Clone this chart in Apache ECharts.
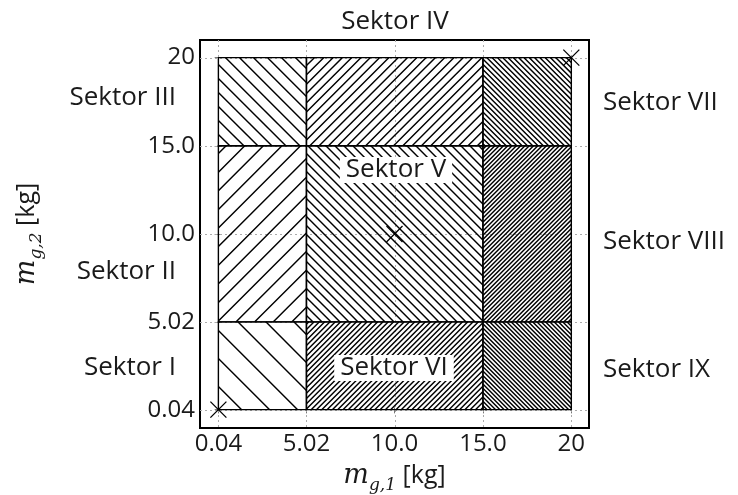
<!DOCTYPE html>
<html>
<head>
<meta charset="utf-8">
<script src="https://cdn.jsdelivr.net/npm/echarts@6/dist/echarts.min.js"></script>
<style>html,body{margin:0;padding:0;background:#fff}#c{width:738px;height:495px}</style>
</head>
<body>
<div id="c"></div>
<script>
// ---- data ----
const xTicks = [0.04, 5.02, 10.0, 15.0, 20];
const xTickLabels = ['0.04', '5.02', '10.0', '15.0', '20'];
const yTicks = [0.04, 5.02, 10.0, 15.0, 20];
const yTickLabels = ['0.04', '5.02', '10.0', '15.0', '20'];

const sectorNames = ['Sektor I','Sektor II','Sektor III','Sektor IV','Sektor V','Sektor VI','Sektor VII','Sektor VIII','Sektor IX'];
const sectorX0 = [0.04, 0.04, 0.04, 5.02, 5.02, 5.02, 15.0, 15.0, 15.0];
const sectorX1 = [5.02, 5.02, 5.02, 15.0, 15.0, 15.0, 20, 20, 20];
const sectorY0 = [0.04, 5.02, 15.0, 15.0, 5.02, 0.04, 15.0, 5.02, 0.04];
const sectorY1 = [5.02, 15.0, 20, 20, 15.0, 5.02, 20, 15.0, 5.02];

const markerX = [0.04, 10.0, 20];
const markerY = [0.04, 10.0, 20];

// ---- styles ----
const hatchDir = ['\\', '/', '\\', '/', '\\', '/', '\\', '/', '\\'];
const hatchSpacing = [28, 18.6, 14, 9.3, 9.0, 5.3, 5.3, 4.3, 4.3];
const FONT = "'Open Sans', sans-serif";
const TXT = '#1a1a1a';

const chart = echarts.init(document.getElementById('c'), null, {renderer: 'canvas'});

function labelFor(ticks, labels) {
  return function (v) {
    for (let i = 0; i < ticks.length; i++) if (Math.abs(ticks[i] - v) < 1e-6) return labels[i];
    return '';
  };
}

function hatchPath(left, top, right, bottom, dir, s) {
  let d = '';
  if (dir === '/') {
    const cMin = left + top, cMax = right + bottom;
    for (let k = Math.ceil(cMin / s); k * s <= cMax; k++) {
      const c = k * s;
      const xa = Math.max(left, c - bottom), xb = Math.min(right, c - top);
      if (xb - xa < 0.4) continue;
      d += 'M' + xa.toFixed(2) + ' ' + (c - xa).toFixed(2) + 'L' + xb.toFixed(2) + ' ' + (c - xb).toFixed(2);
    }
  } else {
    const cMin = left - bottom, cMax = right - top;
    for (let k = Math.ceil(cMin / s); k * s <= cMax; k++) {
      const c = k * s;
      const xa = Math.max(left, c + top), xb = Math.min(right, c + bottom);
      if (xb - xa < 0.4) continue;
      d += 'M' + xa.toFixed(2) + ' ' + (xa - c).toFixed(2) + 'L' + xb.toFixed(2) + ' ' + (xb - c).toFixed(2);
    }
  }
  return d;
}

const sectorData = sectorNames.map((n, i) => [sectorX0[i], sectorY0[i], sectorX1[i], sectorY1[i], i]);

const nameRich = {
  m: {fontFamily: "'DejaVu Serif', serif", fontStyle: 'italic', fontSize: 27, color: TXT, lineHeight: 36, verticalAlign: 'middle'},
  s: {fontFamily: "'DejaVu Serif', serif", fontStyle: 'italic', fontSize: 17, color: TXT, lineHeight: 36, verticalAlign: 'bottom'},
  t: {fontFamily: FONT, fontSize: 25, color: TXT, lineHeight: 36, verticalAlign: 'middle'}
};

const option = {
  animation: false,
  backgroundColor: '#fff',
  grid: {left: 200, top: 40, right: 149, bottom: 67, outerBoundsMode: 'none', containLabel: false,
    show: true, borderColor: '#000', borderWidth: 2, backgroundColor: 'transparent'},
  xAxis: [{
    type: 'value', min: -1, max: 21, position: 'bottom',
    axisLine: {show: false},
    splitLine: {show: false},
    axisTick: {show: true, inside: true, length: 3, customValues: xTicks, lineStyle: {color: '#777'}},
    axisLabel: {customValues: xTicks, formatter: labelFor(xTicks, xTickLabels), fontFamily: FONT, fontSize: 24, color: TXT, margin: 4},
    name: '{m|m}{s|g,1}{t| [kg]}',
    nameLocation: 'middle', nameGap: 30,
    nameTextStyle: {rich: nameRich}
  }, {
    type: 'value', min: -1, max: 21, position: 'top',
    axisLine: {show: false}, splitLine: {show: false}, axisLabel: {show: false},
    axisTick: {show: true, inside: true, length: 3, customValues: xTicks, lineStyle: {color: '#777'}}
  }],
  yAxis: [{
    type: 'value', min: -1, max: 21, position: 'left',
    axisLine: {show: false},
    splitLine: {show: false},
    axisTick: {show: true, inside: true, length: 3, customValues: yTicks, lineStyle: {color: '#777'}},
    axisLabel: {customValues: yTicks, formatter: labelFor(yTicks, yTickLabels), fontFamily: FONT, fontSize: 24, color: TXT, margin: 5},
    name: '{m|m}{s|g,2}{t| [kg]}',
    nameLocation: 'middle', nameGap: 155, nameRotate: 90,
    nameTextStyle: {rich: nameRich}
  }, {
    type: 'value', min: -1, max: 21, position: 'right',
    axisLine: {show: false}, splitLine: {show: false}, axisLabel: {show: false},
    axisTick: {show: true, inside: true, length: 3, customValues: yTicks, lineStyle: {color: '#777'}}
  }],
  series: [
    {
      type: 'custom', z: 1, silent: true,
      data: xTicks.map(v => [v]),
      encode: {x: 0},
      renderItem: function (params, api) {
        const cs = params.coordSys;
        const x = Math.round(api.coord([api.value(0), 0])[0]) + 0.5;
        return {type: 'line', shape: {x1: x, y1: cs.y, x2: x, y2: cs.y + cs.height},
          style: {stroke: '#aaa', lineWidth: 1, lineDash: [2, 3]}};
      }
    },
    {
      type: 'custom', z: 1, silent: true,
      data: yTicks.map(v => [0, v]),
      encode: {y: 1},
      renderItem: function (params, api) {
        const cs = params.coordSys;
        const y = Math.round(api.coord([0, api.value(1)])[1]) + 0.5;
        return {type: 'line', shape: {x1: cs.x, y1: y, x2: cs.x + cs.width, y2: y},
          style: {stroke: '#aaa', lineWidth: 1, lineDash: [2, 3]}};
      }
    },
    {
      type: 'custom', z: 2, silent: true,
      data: sectorData,
      encode: {x: [0, 2], y: [1, 3]},
      renderItem: function (params, api) {
        const p0 = api.coord([api.value(0), api.value(1)]);
        const p1 = api.coord([api.value(2), api.value(3)]);
        const left = p0[0], bottom = p0[1], right = p1[0], top = p1[1];
        const i = api.value(4);
        const d = hatchPath(left, top, right, bottom, hatchDir[i], hatchSpacing[i]);
        return {
          type: 'group',
          children: [
            {type: 'path', shape: {pathData: d}, style: {stroke: '#000', lineWidth: 1.45, fill: null}},
            {type: 'rect', shape: {x: left, y: top, width: right - left, height: bottom - top},
              style: {stroke: '#000', lineWidth: 1.4, fill: null}}
          ]
        };
      }
    },
    {
      type: 'custom', z: 3, silent: true,
      data: markerX.map((v, i) => [v, markerY[i]]),
      encode: {x: 0, y: 1},
      renderItem: function (params, api) {
        const p = api.coord([api.value(0), api.value(1)]);
        const h = 8;
        return {type: 'path',
          shape: {pathData: 'M' + (p[0] - h) + ' ' + (p[1] - h) + 'L' + (p[0] + h) + ' ' + (p[1] + h) +
            'M' + (p[0] + h) + ' ' + (p[1] - h) + 'L' + (p[0] - h) + ' ' + (p[1] + h)},
          style: {stroke: '#000', lineWidth: 1.3, fill: null}};
      }
    }
  ],
  graphic: {
    elements: [
      {type: 'text', z: 100, style: {text: sectorNames[3], x: 395, y: 22, align: 'center', verticalAlign: 'middle', font: '26px ' + FONT, fill: TXT}},
      {type: 'text', z: 100, style: {text: sectorNames[2], x: 176, y: 98, align: 'right', verticalAlign: 'middle', font: '26px ' + FONT, fill: TXT}},
      {type: 'text', z: 100, style: {text: sectorNames[1], x: 176, y: 272, align: 'right', verticalAlign: 'middle', font: '26px ' + FONT, fill: TXT}},
      {type: 'text', z: 100, style: {text: sectorNames[0], x: 176, y: 368, align: 'right', verticalAlign: 'middle', font: '26px ' + FONT, fill: TXT}},
      {type: 'text', z: 100, style: {text: sectorNames[6], x: 603, y: 103, align: 'left', verticalAlign: 'middle', font: '26px ' + FONT, fill: TXT}},
      {type: 'text', z: 100, style: {text: sectorNames[7], x: 603, y: 242, align: 'left', verticalAlign: 'middle', font: '26px ' + FONT, fill: TXT}},
      {type: 'text', z: 100, style: {text: sectorNames[8], x: 603, y: 370, align: 'left', verticalAlign: 'middle', font: '26px ' + FONT, fill: TXT}},
      {type: 'text', z: 100, style: {text: sectorNames[4], x: 396, y: 170, align: 'center', verticalAlign: 'middle', font: '26px ' + FONT, fill: TXT,
        backgroundColor: '#fff', padding: [0, 6, 0, 6]}},
      {type: 'text', z: 100, style: {text: sectorNames[5], x: 394, y: 368, align: 'center', verticalAlign: 'middle', font: '26px ' + FONT, fill: TXT,
        backgroundColor: '#fff', padding: [0, 6, 0, 6]}}
    ]
  }
};
chart.setOption(option);
</script>
</body>
</html>
